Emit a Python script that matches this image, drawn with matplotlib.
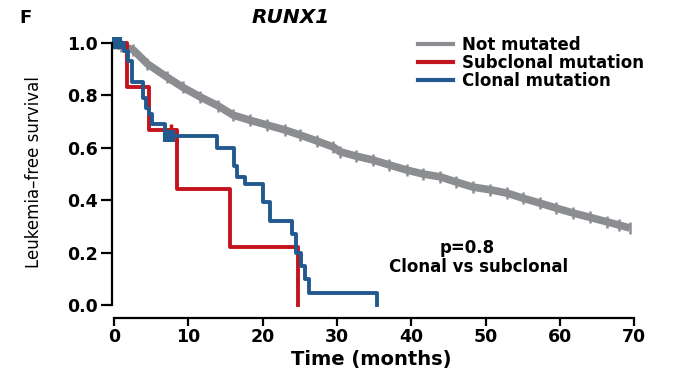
import matplotlib
matplotlib.use("Agg")
import matplotlib.pyplot as plt
from matplotlib.lines import Line2D

# survival curves
gray_t = [0, 1, 2.6, 4.5, 7.1, 9.3, 11.6, 14, 16, 18.3, 20.6, 23, 25, 27.3,
          29.5, 30.4, 32.6, 34.9, 37, 39.4, 41.6, 43.9, 46, 48.3, 50.6, 52.9,
          55, 57.3, 59.5, 61.8, 64, 66.4, 68, 69.4]
gray_s = [1.0, 0.99, 0.973, 0.92, 0.87, 0.83, 0.794, 0.76, 0.725, 0.705, 0.687,
          0.668, 0.649, 0.626, 0.603, 0.585, 0.568, 0.553, 0.535, 0.515, 0.50,
          0.489, 0.47, 0.45, 0.44, 0.427, 0.408, 0.389, 0.37, 0.351, 0.335,
          0.317, 0.305, 0.294]

red_t = [0, 1.7, 4.75, 8.5, 15.6, 24.8]
red_s = [1.0, 0.833, 0.667, 0.444, 0.222, 0.0]
red_cens_t = [0.6, 7.6]
red_cens_s = [1.0, 0.667]

blue_t = [0, 1.4, 1.9, 2.4, 3.9, 4.3, 4.7, 5.1, 6.8, 13.85, 16.1, 16.6, 17.6,
          20.0, 21.0, 23.95, 24.5, 25.1, 25.7, 26.2, 35.4]
blue_s = [1.0, 0.97, 0.93, 0.85, 0.79, 0.75, 0.73, 0.69, 0.645, 0.60, 0.53,
          0.49, 0.46, 0.395, 0.32, 0.27, 0.20, 0.15, 0.10, 0.045, 0.0]
blue_cens_t = [0.0, 0.4, 0.8, 6.9, 7.4, 7.9]
blue_cens_s = [1.0, 1.0, 1.0, 0.645, 0.645, 0.645]

labels = ['Not mutated', 'Subclonal mutation', 'Clonal mutation']
gray_c = '#8b8d90'
red_c = '#c3141d'
blue_c = '#22598f'

plt.rcParams['font.family'] = ['DejaVu Sans']

fig = plt.figure(figsize=(6.83, 3.74), dpi=100)
ax = fig.add_axes([0.1637, 0.1634, 0.7756, 0.7428])

ax.plot(gray_t, gray_s, color=gray_c, lw=5.5, marker='|', ms=8, mew=1.8,
        solid_capstyle='butt')
ax.step(red_t, red_s, where='post', color=red_c, lw=2.8)
ax.plot(red_cens_t, red_cens_s, ls='none', marker='|', ms=8, mew=2.5, color=red_c)
ax.step(blue_t, blue_s, where='post', color=blue_c, lw=2.8)
ax.plot(blue_cens_t, blue_cens_s, ls='none', marker='|', ms=9, mew=3, color=blue_c)

ax.set_xlim(-0.3, 71)
ax.set_ylim(-0.03, 1.03)
ax.set_xticks(range(0, 71, 10))
ax.set_yticks([0, 0.2, 0.4, 0.6, 0.8, 1.0])
ax.set_yticklabels(['0.0', '0.2', '0.4', '0.6', '0.8', '1.0'])
for s in ['top', 'right']:
    ax.spines[s].set_visible(False)
ax.spines['left'].set_bounds(0, 1)
ax.spines['bottom'].set_bounds(0, 70)
ax.spines['bottom'].set_position(('outward', 4))
ax.spines['left'].set_linewidth(1.6)
ax.spines['bottom'].set_linewidth(1.6)
ax.tick_params(axis='y', width=1.6, length=8, labelsize=12.5, pad=2)
ax.tick_params(axis='x', width=1.6, length=6, labelsize=12.5, pad=1)
for lab in ax.get_xticklabels() + ax.get_yticklabels():
    lab.set_fontweight('bold')

fig.text(0.5432, 0.040, 'Time (months)', fontsize=14, fontweight='bold',
         ha='center', va='center')
fig.text(0.0498, 0.540, 'Leukemia\u2013free survival', fontsize=12,
         rotation=90, ha='center', va='center')

fig.text(0.426, 0.952, 'RUNX1', fontsize=14.5, fontweight='bold', style='italic',
         ha='center', va='center')
fig.text(0.037, 0.952, 'F', fontsize=13, fontweight='bold', ha='center', va='center')

handles = [Line2D([], [], color=c, lw=3) for c in [gray_c, red_c, blue_c]]
fig.legend(handles, labels, loc='upper left', bbox_to_anchor=(0.612, 0.905),
           frameon=False, prop={'size': 12, 'weight': 'bold'},
           handlelength=2.1, handletextpad=0.55, labelspacing=0.0,
           borderpad=0, borderaxespad=0)

fig.text(0.6837, 0.3369, 'p=0.8', ha='center', va='center', fontsize=12,
         fontweight='bold')
fig.text(0.7013, 0.2861, 'Clonal vs subclonal', ha='center', va='center',
         fontsize=12, fontweight='bold')

fig.savefig('out.png', dpi=100)
